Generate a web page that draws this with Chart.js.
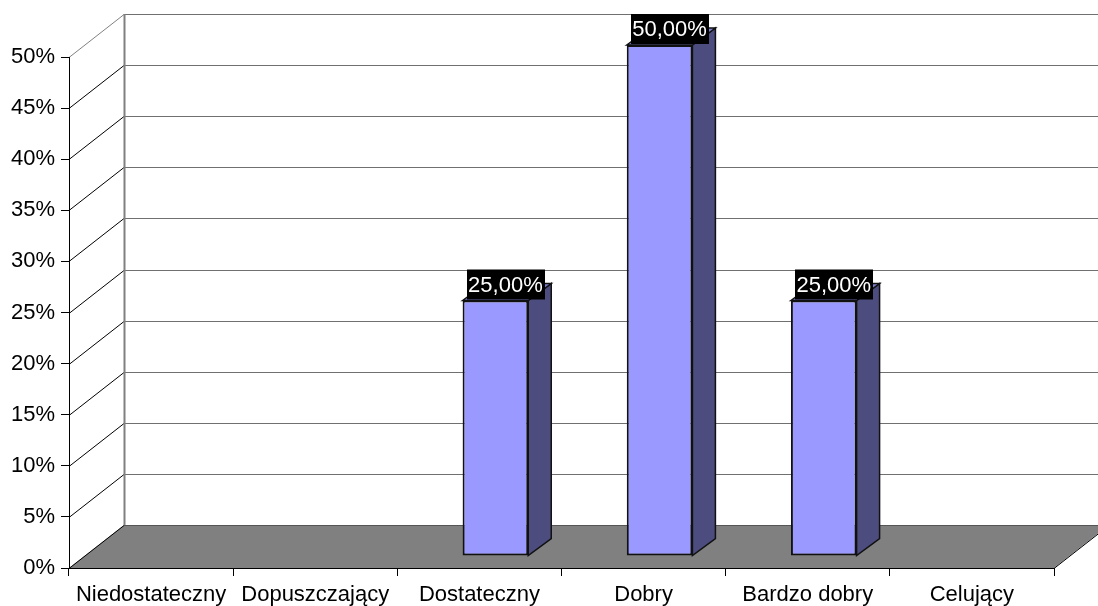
<!DOCTYPE html>
<html>
<head>
<meta charset="utf-8">
<title>Oceny</title>
<script src="https://cdn.jsdelivr.net/npm/chart.js@4/dist/chart.umd.min.js"></script>
<style>
  body { margin: 0; background: #fff; }
  canvas { display: block; }
</style>
</head>
<body>
<canvas id="gradesChart" width="1098" height="606"></canvas>
<script>
// data
const grades = ["Niedostateczny", "Dopuszczający", "Dostateczny", "Dobry", "Bardzo dobry", "Celujący"];
const shares = [0, 0, 25, 50, 25, 0];
const yTicks = [0, 5, 10, 15, 20, 25, 30, 35, 40, 45, 50];

// 3D look (pixels)
const DEPTH = { x: 55, y: -43 };   // front plane -> back wall
const BAR_OFF = { x: 16, y: -12 }; // front plane -> bar front face
const BAR_D = { x: 23, y: -17 };   // bar depth

Chart.defaults.font.family = '"Liberation Sans", Arial, sans-serif';
Chart.defaults.font.size = 22;
Chart.defaults.color = "#000";

const fmt = v => v.toFixed(2).replace(".", ",") + "%";

function poly(ctx, pts, fill, stroke, lw) {
  ctx.beginPath();
  ctx.moveTo(pts[0][0], pts[0][1]);
  for (let i = 1; i < pts.length; i++) ctx.lineTo(pts[i][0], pts[i][1]);
  ctx.closePath();
  if (fill) { ctx.fillStyle = fill; ctx.fill(); }
  if (stroke) { ctx.strokeStyle = stroke; ctx.lineWidth = lw || 1; ctx.stroke(); }
}

const box3d = {
  id: "box3d",
  beforeDraw(chart) {
    const ctx = chart.ctx;
    const x = chart.scales.x, y = chart.scales.y;
    const L = x.left, R = x.right, B = y.getPixelForValue(0);
    const W = chart.width;
    ctx.save();
    // floor
    poly(ctx, [[L, B], [L + DEPTH.x, B + DEPTH.y], [R + DEPTH.x, B + DEPTH.y], [R, B]], "#808080", null);
    ctx.lineWidth = 1;
    ctx.strokeStyle = "#000";
    ctx.beginPath();
    ctx.moveTo(R, B + 0.5);
    ctx.lineTo(R + DEPTH.x, B + DEPTH.y + 0.5);
    ctx.stroke();
    // grid on side and back wall
    yTicks.forEach(v => {
      const py = Math.round(y.getPixelForValue(v)) + 0.5;
      const top = v === yTicks[yTicks.length - 1];
      ctx.strokeStyle = top ? "#808080" : "#000";
      ctx.beginPath();
      ctx.moveTo(L, py);
      ctx.lineTo(L + DEPTH.x, py + DEPTH.y);
      ctx.stroke();
      ctx.strokeStyle = v === 0 ? "#555" : "#707070";
      ctx.beginPath();
      ctx.moveTo(L + DEPTH.x, py + DEPTH.y);
      ctx.lineTo(W, py + DEPTH.y);
      ctx.stroke();
    });
    // back wall left edge
    ctx.strokeStyle = "#808080";
    ctx.lineWidth = 2;
    ctx.beginPath();
    ctx.moveTo(L + DEPTH.x + 0.5, y.getPixelForValue(50) + DEPTH.y);
    ctx.lineTo(L + DEPTH.x + 0.5, B + DEPTH.y);
    ctx.stroke();
    ctx.restore();
  },
  beforeDatasetsDraw(chart) {
    chart.ctx.save();
    chart.ctx.translate(BAR_OFF.x, BAR_OFF.y);
  },
  afterDatasetsDraw(chart) {
    const ctx = chart.ctx;
    ctx.restore();
    const meta = chart.getDatasetMeta(0);
    ctx.save();
    meta.data.forEach((bar, i) => {
      const v = shares[i];
      if (!v) return;
      const l = bar.x - bar.width / 2 + BAR_OFF.x;
      const r = bar.x + bar.width / 2 + BAR_OFF.x;
      const t = bar.y + BAR_OFF.y;
      const b = bar.base + BAR_OFF.y;
      poly(ctx, [[r, t], [r + BAR_D.x, t + BAR_D.y], [r + BAR_D.x, b + BAR_D.y], [r, b]], "#4c4c7f", "#111", 1.5);
      poly(ctx, [[l, t], [l + BAR_D.x, t + BAR_D.y], [r + BAR_D.x, t + BAR_D.y], [r, t]], "#7c7cd0", "#111", 1.5);
      // value label
      const txt = fmt(v);
      ctx.font = '22px "Liberation Sans", Arial, sans-serif';
      const w = ctx.measureText(txt).width + 3;
      const cx = bar.x + BAR_OFF.x + 10;
      const bottom = t - 1;
      ctx.fillStyle = "#000";
      ctx.fillRect(Math.round(cx - w / 2), bottom - 30, Math.round(w), 30);
      ctx.fillStyle = "#fff";
      ctx.textAlign = "center";
      ctx.textBaseline = "middle";
      ctx.fillText(txt, cx, bottom - 14);
    });
    ctx.restore();
  }
};

new Chart(document.getElementById("gradesChart"), {
  type: "bar",
  data: {
    labels: grades,
    datasets: [
      {
        data: shares,
        backgroundColor: "#9999ff",
        borderColor: "#111",
        borderWidth: 2,
        borderSkipped: false,
        categoryPercentage: 1,
        barPercentage: 0.4,
        clip: false,
      },
    ],
  },
  options: {
    responsive: false,
    animation: false,
    devicePixelRatio: 1,
    layout: { padding: { top: 57, right: 44, left: 0, bottom: 0 } },
    plugins: {
      legend: { display: false },
      tooltip: { enabled: false },
    },
    scales: {
      x: {
        afterFit: s => { s.height = 38; },
        grid: { drawOnChartArea: false, tickLength: 8, tickColor: "#000", offset: true },
        border: { color: "#000", width: 1 },
        ticks: { padding: 6, color: "#000", maxRotation: 0, autoSkip: false },
      },
      y: {
        min: 0,
        max: 50,
        afterFit: s => { s.width = 69; },
        grid: { drawOnChartArea: false, tickLength: 8, tickColor: "#000" },
        border: { color: "#000", width: 1 },
        ticks: { stepSize: 5, padding: 6, color: "#000", callback: v => v + "%" },
      },
    },
  },
  plugins: [box3d],
});
</script>
</body>
</html>
